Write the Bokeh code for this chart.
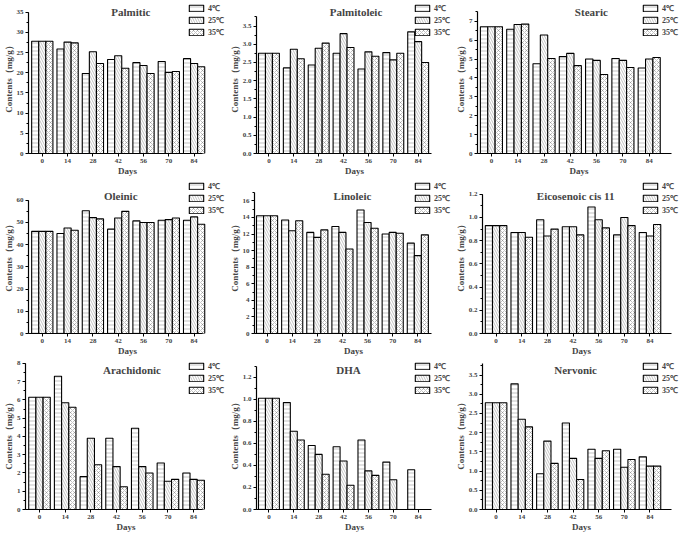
from bokeh.plotting import figure
from bokeh.layouts import column, row
from bokeh.models import (Range1d, Legend, LegendItem, Label, ColumnDataSource,
                          FixedTicker, SingleIntervalTicker, PrintfTickFormatter)
from bokeh.transform import dodge
from bokeh.core.properties import value
from bokeh.embed import file_html
from bokeh.resources import INLINE

days = ["0", "14", "28", "42", "56", "70", "84"]
temps = ["4\u2103", "25\u2103", "35\u2103"]

palmitic_4 = [27.8, 25.9, 19.8, 23.3, 22.5, 22.8, 23.5]
palmitic_25 = [27.8, 27.6, 25.2, 24.2, 21.8, 20.1, 22.3]
palmitic_35 = [27.8, 27.4, 22.3, 21.1, 19.8, 20.3, 21.5]

palmitoleic_4 = [2.75, 2.35, 2.43, 2.75, 2.32, 2.77, 3.34]
palmitoleic_25 = [2.75, 2.86, 2.89, 3.29, 2.79, 2.57, 3.07]
palmitoleic_35 = [2.75, 2.60, 3.03, 2.91, 2.67, 2.75, 2.50]

stearic_4 = [6.71, 6.58, 4.75, 5.13, 5.00, 5.03, 4.53]
stearic_25 = [6.71, 6.83, 6.27, 5.30, 4.93, 4.93, 5.00]
stearic_35 = [6.71, 6.85, 5.03, 4.65, 4.18, 4.55, 5.08]

oleinic_4 = [46.0, 45.0, 55.3, 47.0, 50.7, 51.0, 51.0]
oleinic_25 = [46.0, 47.5, 52.2, 52.0, 50.0, 51.3, 52.5]
oleinic_35 = [46.0, 46.5, 51.6, 55.0, 50.0, 52.0, 49.2]

linoleic_4 = [14.2, 13.7, 12.2, 12.9, 14.9, 12.0, 10.9]
linoleic_25 = [14.2, 12.4, 11.6, 12.2, 13.4, 12.2, 9.4]
linoleic_35 = [14.2, 13.6, 12.5, 10.2, 12.7, 12.1, 11.9]

eicosenoic_4 = [0.93, 0.87, 0.98, 0.92, 1.09, 0.85, 0.87]
eicosenoic_25 = [0.93, 0.87, 0.84, 0.92, 0.98, 1.00, 0.84]
eicosenoic_35 = [0.93, 0.83, 0.90, 0.85, 0.91, 0.93, 0.94]

arachidonic_4 = [6.15, 7.30, 1.80, 3.90, 4.45, 2.55, 2.00]
arachidonic_25 = [6.15, 5.85, 3.90, 2.35, 2.35, 1.55, 1.65]
arachidonic_35 = [6.15, 5.60, 2.45, 1.25, 2.00, 1.65, 1.60]

dha_4 = [1.01, 0.97, 0.58, 0.57, 0.63, 0.43, 0.36]
dha_25 = [1.01, 0.71, 0.50, 0.44, 0.35, 0.27, None]
dha_35 = [1.01, 0.63, 0.32, 0.22, 0.31, None, None]

nervonic_4 = [2.78, 3.27, 0.93, 2.25, 1.57, 1.57, 1.37]
nervonic_25 = [2.78, 2.35, 1.78, 1.33, 1.33, 1.10, 1.13]
nervonic_35 = [2.78, 2.15, 1.20, 0.78, 1.53, 1.30, 1.13]

FONT = "Liberation Serif"
HATCH = ["-", "\\", "x"]
HSCALE = [4, 5, 4]

# (title, series, tick step, y-axis top, view end, title x, tick format)
panels = [
    [("Palmitic", (palmitic_4, palmitic_25, palmitic_35), 5, 35, 37.9, 3.5, "%d"),
     ("Palmitoleic", (palmitoleic_4, palmitoleic_25, palmitoleic_35), 0.5, 3.75, 4.2, 3.5, "%.1f"),
     ("Stearic", (stearic_4, stearic_25, stearic_35), 1, 7.5, 8.1, 3.8, "%d")],
    [("Oleinic", (oleinic_4, oleinic_25, oleinic_35), 10, 60, 69.8, 3.1, "%d"),
     ("Linoleic", (linoleic_4, linoleic_25, linoleic_35), 2, 17, 18.7, 3.4, "%d"),
     ("Eicosenoic cis 11", (eicosenoic_4, eicosenoic_25, eicosenoic_35), 0.2, 1.2, 1.336, 3.1, "%.1f")],
    [("Arachidonic", (arachidonic_4, arachidonic_25, arachidonic_35), 1, 8, 8.27, 3.6, "%d"),
     ("DHA", (dha_4, dha_25, dha_35), 0.2, 1.3, 1.37, 3.2, "%.1f"),
     ("Nervonic", (nervonic_4, nervonic_25, nervonic_35), 0.5, 3.8, 3.93, 3.1, "%.1f")],
]

col_widths = [226, 226, 228]
row_heights = [178, 180, 176]
row_title_frac = [0.925, 0.89, 0.925]
col_border = [24, 25, 25]
col_xrange = [(-0.545, 7.28), (-0.5, 7.38), (-0.53, 7.19)]
col_xaxis_end = [6.35, 6.55, 6.85]


def make_panel(spec, ci, ri):
    title, series, step, ytop, yend, tx, fmt = spec
    p = figure(width=col_widths[ci], height=row_heights[ri], output_backend="svg",
               toolbar_location=None, x_range=Range1d(*col_xrange[ci]),
               y_range=Range1d(0, yend), min_border_left=col_border[ci],
               min_border_right=0, min_border_top=0, min_border_bottom=0)
    p.outline_line_color = None
    p.xgrid.visible = False
    p.ygrid.visible = False
    p.background_fill_color = "white"

    renderers = []
    offsets = [-0.28, 0.0, 0.28]
    for k, vals in enumerate(series):
        xs = [i for i, v in enumerate(vals) if v is not None]
        tops = [v for v in vals if v is not None]
        src = ColumnDataSource(dict(x=xs, top=tops))
        r = p.vbar(x=dodge("x", offsets[k], range=p.x_range), top="top", bottom=0,
                   width=0.28, source=src, fill_color="white", line_color="black",
                   line_width=1.1, hatch_pattern=HATCH[k], hatch_scale=HSCALE[k],
                   hatch_color="#333333", hatch_weight=0.5, hatch_alpha=0.6)
        renderers.append(r)

    xa = p.xaxis[0]
    xa.ticker = FixedTicker(ticks=list(range(len(days))))
    xa.major_label_overrides = {i: d for i, d in enumerate(days)}
    xa.bounds = (col_xrange[ci][0], col_xaxis_end[ci])
    xa.axis_label = "Days"
    ya = p.yaxis[0]
    ya.ticker = SingleIntervalTicker(interval=step, num_minor_ticks=2)
    ya.formatter = PrintfTickFormatter(format=fmt)
    ya.bounds = (0, ytop + 1e-6)
    ya.axis_label = "Contents\uff08mg/g\uff09"
    for ax in (xa, ya):
        ax.axis_line_width = 1.2
        ax.major_tick_in = 0
        ax.major_tick_out = 3
        ax.minor_tick_in = 0
        ax.minor_tick_out = 2
        ax.major_label_text_font = FONT
        ax.major_label_text_font_style = "bold"
        ax.major_label_text_font_size = "7px"
        ax.major_label_standoff = 2
        ax.axis_label_text_font = FONT
        ax.axis_label_text_font_style = "bold"
        ax.axis_label_text_font_size = "9px"
        ax.axis_label_standoff = 0
    xa.minor_tick_line_color = None

    p.add_layout(Label(x=tx, y=yend * row_title_frac[ri], text=title, text_font=FONT,
                       text_font_style="bold", text_font_size="11px",
                       text_align="center", text_baseline="middle"))

    legend = Legend(items=[LegendItem(label=value(t), renderers=[r])
                           for t, r in zip(temps, renderers)],
                    location="top_right", orientation="vertical",
                    glyph_width=18, glyph_height=8, label_height=8, label_width=16,
                    spacing=1, padding=0, margin=2, label_standoff=3,
                    border_line_alpha=0, background_fill_alpha=0,
                    label_text_font=FONT, label_text_font_style="bold",
                    label_text_font_size="8px")
    p.add_layout(legend)
    return p


rows = []
for ri, prow in enumerate(panels):
    rows.append(row(*[make_panel(spec, ci, ri) for ci, spec in enumerate(prow)]))
layout = column(*rows)

open("out.html", "w").write(file_html(layout, INLINE))
